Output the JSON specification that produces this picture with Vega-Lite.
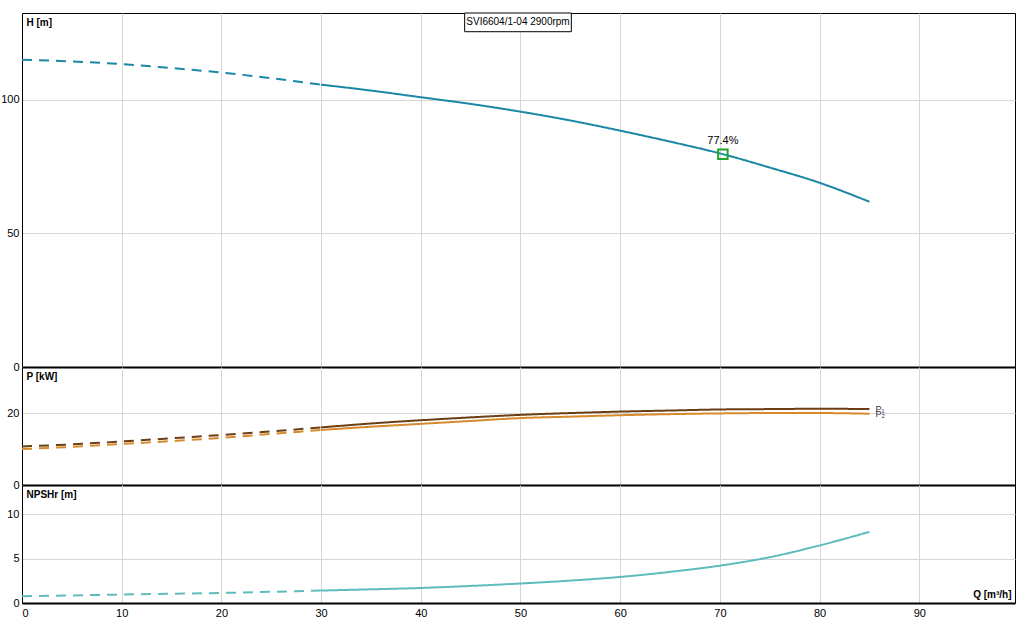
{
  "$schema": "https://vega.github.io/schema/vega-lite/v6.json",
  "background": "white",
  "padding": {"left": 0, "top": 12, "right": 10, "bottom": 4},
  "spacing": 0,
  "bounds": "flush",
  "config": {
    "font": "Liberation Sans",
    "view": {"stroke": "black", "strokeWidth": 1},
    "axis": {
      "labelFont": "Liberation Sans",
      "labelFontSize": 11,
      "labelColor": "#000000",
      "ticks": false,
      "gridColor": "#d6d6d6",
      "gridWidth": 1,
      "domainColor": "#000000",
      "titleFont": "Liberation Sans",
      "titleFontSize": 10,
      "titleFontWeight": "bold",
      "titleColor": "#000000"
    },
    "axisY": {
      "minExtent": 21,
      "maxExtent": 21,
      "labelPadding": 3,
      "domainWidth": 1,
      "titleAngle": 0,
      "titleAlign": "left",
      "titleBaseline": "top",
      "titleX": 4,
      "titleY": 4
    }
  },
  "vconcat": [
    {
      "width": 993,
      "height": 354,
      "data": {
        "values": [
          {"Q": 0, "H": 114.9, "part": "dashed"},
          {"Q": 5, "H": 114.3, "part": "dashed"},
          {"Q": 10, "H": 113.3, "part": "dashed"},
          {"Q": 15, "H": 111.8, "part": "dashed"},
          {"Q": 20, "H": 110.1, "part": "dashed"},
          {"Q": 25, "H": 108.0, "part": "dashed"},
          {"Q": 30, "H": 105.6, "part": "dashed"},
          {"Q": 30, "H": 105.6, "part": "solid"},
          {"Q": 35, "H": 103.4, "part": "solid"},
          {"Q": 40, "H": 100.9, "part": "solid"},
          {"Q": 45, "H": 98.4, "part": "solid"},
          {"Q": 50, "H": 95.5, "part": "solid"},
          {"Q": 55, "H": 92.2, "part": "solid"},
          {"Q": 60, "H": 88.4, "part": "solid"},
          {"Q": 65, "H": 84.3, "part": "solid"},
          {"Q": 70, "H": 79.9, "part": "solid"},
          {"Q": 75, "H": 74.6, "part": "solid"},
          {"Q": 80, "H": 68.9, "part": "solid"},
          {"Q": 85, "H": 61.8, "part": "solid"}
        ]
      },
      "layer": [
        {
          "mark": {"type": "line", "color": "#1b87a6", "strokeWidth": 2, "interpolate": "monotone"},
          "encoding": {
            "x": {
              "field": "Q",
              "type": "quantitative",
              "scale": {"domain": [0, 99.6], "nice": false, "zero": false},
              "axis": {"values": [0, 10, 20, 30, 40, 50, 60, 70, 80, 90], "labels": false, "title": null, "domainWidth": 2}
            },
            "y": {
              "field": "H",
              "type": "quantitative",
              "scale": {"domain": [0, 132.4], "nice": false},
              "axis": {"values": [0, 50, 100], "title": "H [m]"}
            },
            "strokeDash": {
              "field": "part",
              "type": "nominal",
              "scale": {"domain": ["solid", "dashed"], "range": [[1, 0], [10, 7]]},
              "legend": null
            }
          }
        },
        {
          "data": {"values": [{"Q": 70.3, "H": 79.6, "eff": "77.4%"}]},
          "mark": {"type": "point", "shape": "square", "size": 90, "filled": false, "stroke": "#22a32a", "strokeWidth": 2, "opacity": 1},
          "encoding": {
            "x": {"field": "Q", "type": "quantitative"},
            "y": {"field": "H", "type": "quantitative"}
          }
        },
        {
          "data": {"values": [{"Q": 70.3, "H": 79.6, "eff": "77.4%"}]},
          "mark": {"type": "text", "dy": -13, "fontSize": 11, "color": "#000000"},
          "encoding": {
            "x": {"field": "Q", "type": "quantitative"},
            "y": {"field": "H", "type": "quantitative"},
            "text": {"field": "eff"}
          }
        },
        {
          "data": {"values": [{"name": "SVI6604/1-04 2900rpm"}]},
          "mark": {"type": "rect", "fill": "white", "stroke": "#000000", "strokeWidth": 1},
          "encoding": {
            "x": {"datum": 44.4, "type": "quantitative"},
            "x2": {"datum": 55.1},
            "y": {"datum": 132.4, "type": "quantitative"},
            "y2": {"datum": 125.4}
          }
        },
        {
          "data": {"values": [{"name": "SVI6604/1-04 2900rpm"}]},
          "mark": {"type": "text", "fontSize": 10, "color": "#000000"},
          "encoding": {
            "x": {"datum": 49.75, "type": "quantitative"},
            "y": {"datum": 128.9, "type": "quantitative"},
            "text": {"field": "name"}
          }
        }
      ]
    },
    {
      "width": 993,
      "height": 118,
      "data": {
        "values": [
          {"Q": 0, "P": 10.7, "curve": "P1", "part": "dashed"},
          {"Q": 5, "P": 11.3, "curve": "P1", "part": "dashed"},
          {"Q": 10, "P": 12.1, "curve": "P1", "part": "dashed"},
          {"Q": 15, "P": 13.0, "curve": "P1", "part": "dashed"},
          {"Q": 20, "P": 13.9, "curve": "P1", "part": "dashed"},
          {"Q": 25, "P": 14.9, "curve": "P1", "part": "dashed"},
          {"Q": 30, "P": 16.0, "curve": "P1", "part": "dashed"},
          {"Q": 30, "P": 16.0, "curve": "P1", "part": "solid"},
          {"Q": 35, "P": 17.1, "curve": "P1", "part": "solid"},
          {"Q": 40, "P": 18.0, "curve": "P1", "part": "solid"},
          {"Q": 45, "P": 18.8, "curve": "P1", "part": "solid"},
          {"Q": 50, "P": 19.5, "curve": "P1", "part": "solid"},
          {"Q": 55, "P": 20.0, "curve": "P1", "part": "solid"},
          {"Q": 60, "P": 20.4, "curve": "P1", "part": "solid"},
          {"Q": 65, "P": 20.7, "curve": "P1", "part": "solid"},
          {"Q": 70, "P": 21.0, "curve": "P1", "part": "solid"},
          {"Q": 75, "P": 21.1, "curve": "P1", "part": "solid"},
          {"Q": 80, "P": 21.2, "curve": "P1", "part": "solid"},
          {"Q": 85, "P": 21.1, "curve": "P1", "part": "solid"},
          {"Q": 0, "P": 10.0, "curve": "P2", "part": "dashed"},
          {"Q": 5, "P": 10.6, "curve": "P2", "part": "dashed"},
          {"Q": 10, "P": 11.4, "curve": "P2", "part": "dashed"},
          {"Q": 15, "P": 12.2, "curve": "P2", "part": "dashed"},
          {"Q": 20, "P": 13.1, "curve": "P2", "part": "dashed"},
          {"Q": 25, "P": 14.2, "curve": "P2", "part": "dashed"},
          {"Q": 30, "P": 15.3, "curve": "P2", "part": "dashed"},
          {"Q": 30, "P": 15.3, "curve": "P2", "part": "solid"},
          {"Q": 35, "P": 16.2, "curve": "P2", "part": "solid"},
          {"Q": 40, "P": 17.0, "curve": "P2", "part": "solid"},
          {"Q": 45, "P": 17.8, "curve": "P2", "part": "solid"},
          {"Q": 50, "P": 18.6, "curve": "P2", "part": "solid"},
          {"Q": 55, "P": 19.0, "curve": "P2", "part": "solid"},
          {"Q": 60, "P": 19.4, "curve": "P2", "part": "solid"},
          {"Q": 65, "P": 19.7, "curve": "P2", "part": "solid"},
          {"Q": 70, "P": 19.9, "curve": "P2", "part": "solid"},
          {"Q": 75, "P": 20.0, "curve": "P2", "part": "solid"},
          {"Q": 80, "P": 20.0, "curve": "P2", "part": "solid"},
          {"Q": 85, "P": 19.8, "curve": "P2", "part": "solid"}
        ]
      },
      "layer": [
        {
          "mark": {"type": "line", "strokeWidth": 2, "interpolate": "monotone"},
          "encoding": {
            "x": {
              "field": "Q",
              "type": "quantitative",
              "scale": {"domain": [0, 99.6], "nice": false, "zero": false},
              "axis": {"values": [0, 10, 20, 30, 40, 50, 60, 70, 80, 90], "labels": false, "title": null, "domainWidth": 2}
            },
            "y": {
              "field": "P",
              "type": "quantitative",
              "scale": {"domain": [0, 32.8], "nice": false},
              "axis": {"values": [0, 20], "title": "P [kW]"}
            },
            "color": {
              "field": "curve",
              "type": "nominal",
              "scale": {"domain": ["P1", "P2"], "range": ["#6b3e14", "#d68a2c"]},
              "legend": null
            },
            "strokeDash": {
              "field": "part",
              "type": "nominal",
              "scale": {"domain": ["solid", "dashed"], "range": [[1, 0], [8, 6]]},
              "legend": null
            }
          }
        },
        {
          "transform": [
            {"filter": "datum.Q == 85 && datum.part == 'solid'"},
            {"calculate": "datum.curve == 'P1' ? 'P₁' : 'P₂'", "as": "lab"}
          ],
          "mark": {"type": "text", "align": "left", "dx": 6, "fontSize": 9, "color": "#333333"},
          "encoding": {
            "x": {"field": "Q", "type": "quantitative"},
            "y": {"field": "P", "type": "quantitative"},
            "text": {"field": "lab"}
          }
        }
      ]
    },
    {
      "width": 993,
      "height": 118,
      "data": {
        "values": [
          {"Q": 0, "N": 0.76, "part": "dashed"},
          {"Q": 5, "N": 0.85, "part": "dashed"},
          {"Q": 10, "N": 0.95, "part": "dashed"},
          {"Q": 15, "N": 1.04, "part": "dashed"},
          {"Q": 20, "N": 1.13, "part": "dashed"},
          {"Q": 25, "N": 1.26, "part": "dashed"},
          {"Q": 30, "N": 1.4, "part": "dashed"},
          {"Q": 30, "N": 1.4, "part": "solid"},
          {"Q": 35, "N": 1.54, "part": "solid"},
          {"Q": 40, "N": 1.69, "part": "solid"},
          {"Q": 45, "N": 1.92, "part": "solid"},
          {"Q": 50, "N": 2.19, "part": "solid"},
          {"Q": 55, "N": 2.52, "part": "solid"},
          {"Q": 60, "N": 2.93, "part": "solid"},
          {"Q": 65, "N": 3.5, "part": "solid"},
          {"Q": 70, "N": 4.2, "part": "solid"},
          {"Q": 75, "N": 5.15, "part": "solid"},
          {"Q": 80, "N": 6.47, "part": "solid"},
          {"Q": 85, "N": 8.0, "part": "solid"}
        ]
      },
      "mark": {"type": "line", "color": "#5fbcbc", "strokeWidth": 2, "interpolate": "monotone"},
      "encoding": {
        "x": {
          "field": "Q",
          "type": "quantitative",
          "scale": {"domain": [0, 99.6], "nice": false, "zero": false},
          "axis": {
            "values": [0, 10, 20, 30, 40, 50, 60, 70, 80, 90],
            "labelPadding": 4,
            "domainWidth": 2,
            "title": "Q [m³/h]",
            "titleAlign": "right",
            "titleBaseline": "bottom",
            "titleX": 989,
            "titleY": -4
          }
        },
        "y": {
          "field": "N",
          "type": "quantitative",
          "scale": {"domain": [0, 13.27], "nice": false},
          "axis": {"values": [0, 5, 10], "title": "NPSHr [m]"}
        },
        "strokeDash": {
          "field": "part",
          "type": "nominal",
          "scale": {"domain": ["solid", "dashed"], "range": [[1, 0], [8, 8]]},
          "legend": null
        }
      }
    }
  ]
}
